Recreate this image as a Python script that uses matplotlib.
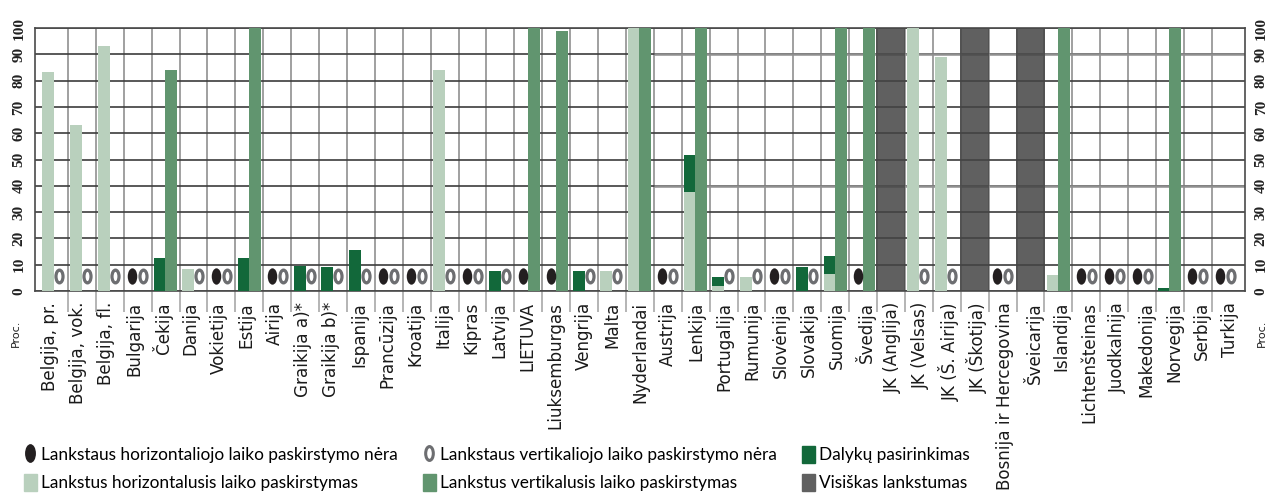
import numpy as np
import matplotlib
matplotlib.use('Agg')
import matplotlib.pyplot as plt
from matplotlib.lines import Line2D
from matplotlib.markers import MarkerStyle
from matplotlib.patches import Patch
from matplotlib.transforms import Affine2D

countries = ['Belgija, pr.', 'Belgija, vok.', 'Belgija, fl.', 'Bulgarija', 'Čekija', 'Danija',
             'Vokietija', 'Estija', 'Airija', 'Graikija a)*', 'Graikija b)*', 'Ispanija',
             'Prancūzija', 'Kroatija', 'Italija', 'Kipras', 'Latvija', 'LIETUVA',
             'Liuksemburgas', 'Vengrija', 'Malta', 'Nyderlandai', 'Austrija', 'Lenkija',
             'Portugalija', 'Rumunija', 'Slovėnija', 'Slovakija', 'Suomija', 'Švedija',
             'JK (Anglija)', 'JK (Velsas)', 'JK (Š. Airija)', 'JK (Škotija)',
             'Bosnija ir Hercegovina', 'Šveicarija', 'Islandija', 'Lichtenšteinas',
             'Juodkalnija', 'Makedonija', 'Norvegija', 'Serbija', 'Turkija']

horizontal = [83.3, 63, 93, 0, 0, 8.4, 0, 0, 0, 0, 0, 0, 0, 0, 84, 0, 0, 0, 0, 0, 7.7, 100,
              0, 37.6, 1.9, 5.3, 0, 0, 6.5, 0, 0, 100, 89, 0, 0, 0, 6.1, 0, 0, 0, 0, 0, 0]
subjects = [0, 0, 0, 0, 12.5, 0, 0, 12.5, 0, 9.5, 9.1, 15.6, 0, 0, 0, 0, 7.6, 0, 0, 7.6, 0, 0,
            0, 14.1, 3.4, 0, 0, 9.1, 6.8, 0, 0, 0, 0, 0, 0, 0, 0, 0, 0, 0, 1.1, 0, 0]
vertical = [0, 0, 0, 0, 84, 0, 0, 100, 0, 0, 0, 0, 0, 0, 0, 0, 0, 100, 99, 0, 0, 100,
            0, 100, 0, 0, 0, 0, 100, 100, 0, 0, 0, 0, 0, 0, 100, 0, 0, 0, 100, 0, 0]
full = [0] * 30 + [100, 0, 0, 100, 0, 100] + [0] * 7

no_horizontal = [3, 6, 8, 12, 13, 15, 17, 18, 22, 26, 29, 34, 37, 38, 39, 41, 42]
no_vertical = [0, 1, 2, 3, 5, 6, 8, 9, 10, 11, 12, 13, 14, 15, 16, 19, 20, 22, 24, 25, 26, 27,
               31, 32, 34, 37, 38, 39, 41, 42]
oval_level = 5.6

yticks = list(range(0, 101, 10))
faded_lines = [40, 90]

LIGHT = '#b9d0bd'
MID = '#61956f'
DARK = '#12683a'
GREY = '#444444'
BLACK = '#231f20'
RING = '#6d6e71'

W, H = 1269, 493
fig = plt.figure(figsize=(W / 100, H / 100), dpi=100)
ax = fig.add_axes([35 / W, 1 - 291 / H, 1210 / W, 263 / H])

x = np.arange(len(countries))
horizontal = np.array(horizontal)
width = 0.43
shift = 0.197

ax.bar(x - shift, horizontal, width, color=LIGHT, zorder=3)
ax.bar(x - shift, subjects, width, bottom=horizontal, color=DARK, zorder=3)
ax.bar(x + shift, vertical, width, color=MID, zorder=3)
ax.bar(x, full, 1.04, color=GREY, alpha=0.85, zorder=1.8)

solid_oval = MarkerStyle('o', transform=Affine2D().scale(0.58, 1))
ring_oval = MarkerStyle('o', transform=Affine2D().scale(0.55, 1))
ax.plot(np.array(no_horizontal) - shift, [oval_level] * len(no_horizontal), ls='none', marker=solid_oval,
        ms=11.8, mfc=BLACK, mec=BLACK, mew=0, zorder=4)
ax.plot(np.array(no_vertical) + shift, [oval_level] * len(no_vertical), ls='none', marker=ring_oval,
        ms=9.2, mfc='white', mec=RING, mew=2.3, zorder=4)

ax.set_xlim(-0.68, 42.69)
ax.set_ylim(0, 100)
ax.set_yticks(yticks)
ax.grid(axis='y', color='#3c3c3c', lw=1.2)
ax.hlines(faded_lines, 21.5, 42.69, color='#8f8f8f', lw=1.8, zorder=1.6)
ax.set_xticks(x[:-1] + 0.5, minor=True)
ax.grid(axis='x', which='minor', color='#909090', lw=1.2)
ax.tick_params(axis='x', which='minor', length=15, width=1.2, color='#a8a8a8')
for side in ax.spines:
    ax.spines[side].set_color('#4a4a4a')
    ax.spines[side].set_linewidth(1.2)

# labels sit on a slightly wider pitch than the bars
ax.set_xticks(-0.14 + 1.0072 * x)
ax.set_xticklabels(countries, rotation=90, fontsize=12.1, family='DejaVu Sans', color='#1a1a1a')
ax.tick_params(axis='x', which='major', length=0, pad=8)

ax.tick_params(axis='y', length=0, pad=7, labelright=True, labelleft=True)
for lab in ax.get_yticklabels():
    lab.set(rotation=90, family='Liberation Serif', weight='bold', fontsize=11, color='#222222',
            va='center')

fig.text(16 / W, 1 - 347 / H, 'Proc.', rotation=90, fontsize=8, color='#222222', va='bottom', ha='center')
fig.text(1262 / W, 1 - 347 / H, 'Proc.', rotation=90, fontsize=8, color='#222222', va='bottom', ha='center')

handles = [
    Line2D([], [], ls='none', marker=solid_oval, ms=13.5, mfc=BLACK, mec=BLACK, mew=0),
    Patch(color=LIGHT),
    Line2D([], [], ls='none', marker=ring_oval, ms=10, mfc='white', mec=RING, mew=2.2),
    Patch(color=MID),
    Patch(color=DARK),
    Patch(color='#606060'),
]
names = ['Lankstaus horizontaliojo laiko paskirstymo nėra', 'Lankstus horizontalusis laiko paskirstymas',
         'Lankstaus vertikaliojo laiko paskirstymo nėra', 'Lankstus vertikalusis laiko paskirstymas',
         'Dalykų pasirinkimas', 'Visiškas lankstumas']
fig.legend(handles, names, ncols=3, loc='upper left', bbox_to_anchor=(24 / W, 1 - 446 / H),
           frameon=False, handlelength=0.75, handleheight=1.15, handletextpad=0.25,
           columnspacing=1.45, labelspacing=0.62, borderpad=0, borderaxespad=0,
           prop={'family': 'Lato', 'size': 12.4})

fig.savefig('out.png', dpi=100)
